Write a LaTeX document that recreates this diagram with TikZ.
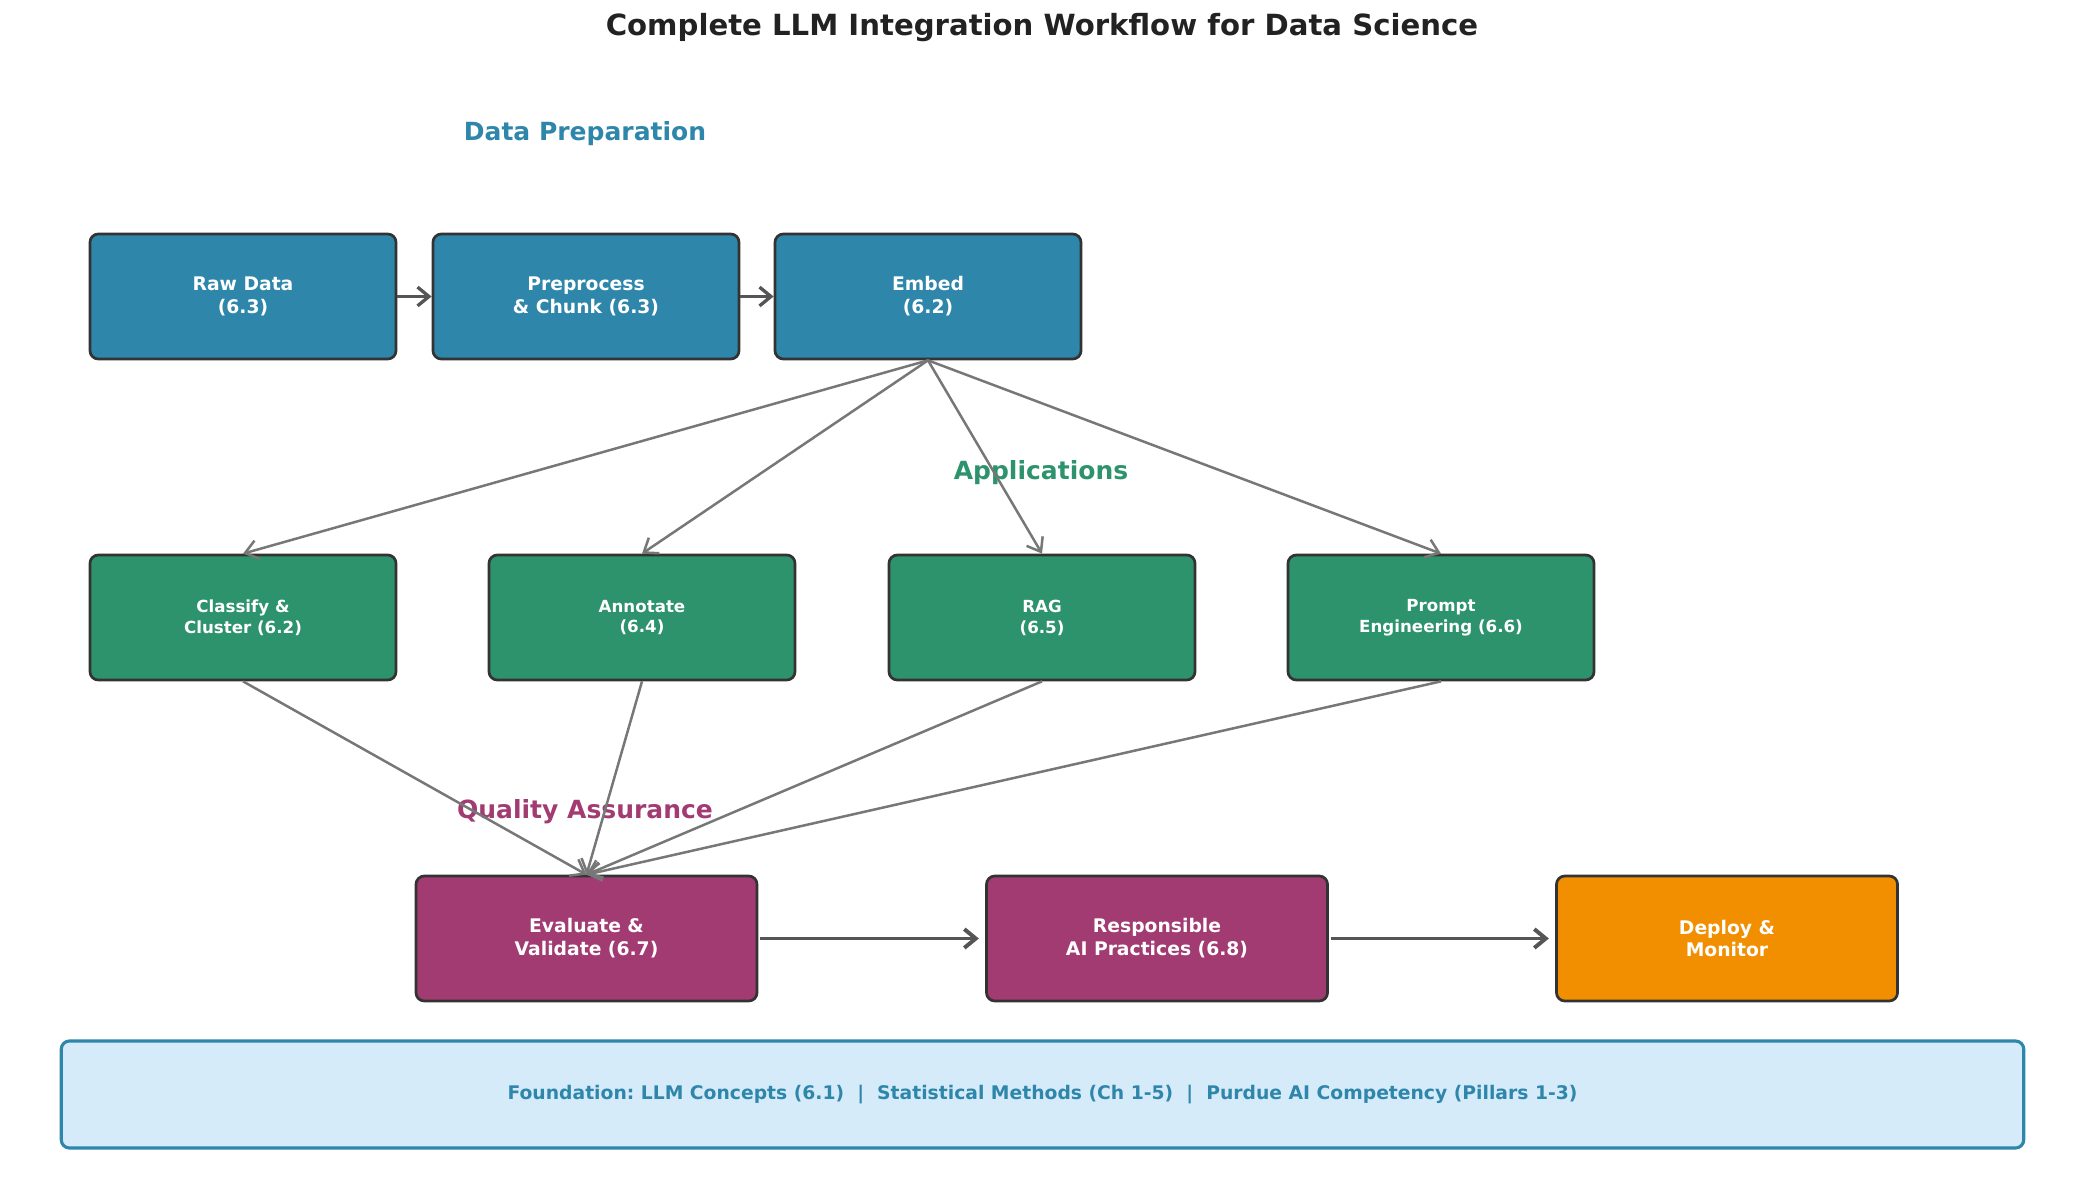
\documentclass[tikz,border=0pt]{standalone}
\usepackage{fontspec}
\setmainfont{DejaVu Sans}
\usetikzlibrary{arrows.meta}
\frenchspacing
\definecolor{cblue}{HTML}{2E86AB}
\definecolor{cgreen}{HTML}{2D936C}
\definecolor{cpurple}{HTML}{A23B72}
\definecolor{corange}{HTML}{F18F01}
\definecolor{cdark}{HTML}{333333}
\definecolor{ctitle}{HTML}{222222}
\definecolor{cfound}{HTML}{D6EBF9}
\definecolor{cgray}{HTML}{777777}
\definecolor{cthick}{HTML}{555555}
\begin{document}
\begin{tikzpicture}[x=0.48pt,y=-0.48pt,
  box/.style={draw=cdark,line width=1.3pt,rounded corners=4pt,text=white,
    font=\bfseries\fontsize{9}{11}\selectfont,align=center,
    minimum width=146.9pt,minimum height=60pt,inner sep=0pt},
  appbox/.style={box,fill=cgreen,font=\bfseries\fontsize{8}{10}\selectfont},
  qabox/.style={box,minimum width=163.7pt},
  section/.style={font=\bfseries\fontsize{12}{14}\selectfont},
  link/.style={draw=cgray,line width=1.2pt,-{Straight Barb[length=6pt,width=9pt]}},
  flow/.style={draw=cthick,line width=1.6pt,-{Straight Barb[length=5.5pt,width=9pt]}}
]
\useasboundingbox (0,0) rectangle (2085,1184);

\node[font=\bfseries\fontsize{14}{17}\selectfont,text=ctitle] (title) at (1042,28) {Complete LLM Integration Workflow for Data Science};

\node[section,text=cblue] (secdp) at (585,134) {Data Preparation};
\node[section,text=cgreen] (secapp) at (1041,473) {Applications};
\node[section,text=cpurple] (secqa) at (585,812) {Quality Assurance};

% Row 1
\node[box,fill=cblue] (raw) at (243,296.5) {Raw Data\\(6.3)};
\node[box,fill=cblue] (pre) at (586,296.5) {Preprocess\\\& Chunk (6.3)};
\node[box,fill=cblue] (emb) at (928,296.5) {Embed\\(6.2)};

% Row 2
\node[appbox] (cls) at (243,617.5) {Classify \&\\Cluster (6.2)};
\node[appbox] (ann) at (642,617.5) {Annotate\\(6.4)};
\node[appbox] (rag) at (1042,617.5) {RAG\\(6.5)};
\node[appbox] (pro) at (1441,617.5) {Prompt\\Engineering (6.6)};

% Row 3
\node[qabox,fill=cpurple] (eval) at (586.5,938.5) {Evaluate \&\\Validate (6.7)};
\node[qabox,fill=cpurple] (resp) at (1157,938.5) {Responsible\\AI Practices (6.8)};
\node[qabox,fill=corange] (dep) at (1727,938.5) {Deploy \&\\Monitor};

% Foundation
\node[draw=cblue,line width=1.5pt,fill=cfound,rounded corners=4pt,
  minimum width=942pt,minimum height=51.4pt,inner sep=0pt,text=cblue,
  font=\bfseries\fontsize{9}{11}\selectfont] (found) at (1042.5,1094.5)
  {Foundation: LLM Concepts (6.1) \ |\ \ Statistical Methods (Ch 1-5) \ |\ \ Purdue AI Competency (Pillars 1-3)};

% Connectors
\draw[flow] (raw.east) -- (pre.west);
\draw[flow] (pre.east) -- (emb.west);

\draw[link] (emb.south) -- (cls.north);
\draw[link] (emb.south) -- (ann.north);
\draw[link] (emb.south) -- (rag.north);
\draw[link] (emb.south) -- (pro.north);

\draw[link] (cls.south) -- (eval.north);
\draw[link] (ann.south) -- (eval.north);
\draw[link] (rag.south) -- (eval.north);
\draw[link] (pro.south) -- (eval.north);

\draw[flow,line width=1.9pt,shorten >=3pt,shorten <=1pt] (eval.east) -- (resp.west);
\draw[flow,line width=1.9pt,shorten >=3pt,shorten <=1pt] (resp.east) -- (dep.west);
\end{tikzpicture}
\end{document}
